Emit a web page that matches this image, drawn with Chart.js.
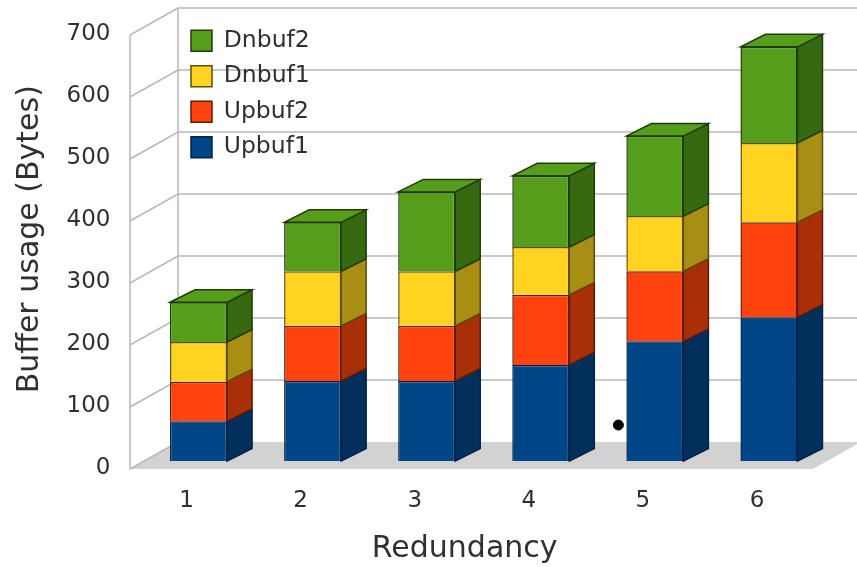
<!DOCTYPE html>
<html>
<head>
<meta charset="utf-8">
<style>
    html, body { margin: 0; padding: 0; background: #fff; }
    canvas { display: block; }
</style>
<script src="https://cdn.jsdelivr.net/npm/chart.js@4"></script>
</head>
<body>
<canvas id="bufferChart" width="857" height="567"></canvas>
<script>
const categories = ['1', '2', '3', '4', '5', '6'];
const upbuf1 = [64, 129, 129, 155, 193, 232];
const upbuf2 = [64, 89, 89, 113, 113, 153];
const dnbuf1 = [64, 88, 88, 77, 89, 128];
const dnbuf2 = [64, 79, 128, 115, 129, 155];

// ponto preto solto que aparece na figura original
const dotX = [3.68];
const dotY = [58];

const fontFamily = '"DejaVu Sans", sans-serif';
const textColor = '#303030';
const wallLine = '#b8b8b8';
const depthX = 25;
const depthY = 12.5;

function serie(label, data, color, side, edge) {
    return {
        label: label,
        data: data,
        backgroundColor: color,
        borderColor: edge,
        borderWidth: 1.5,
        sideColor: side
    };
}

// parede do fundo, chão e linhas em perspectiva
const wallsPlugin = {
    id: 'walls',
    beforeDraw(chart) {
        const { ctx, scales } = chart;
        const y = scales.y;
        const frontX = 130, backX = 178, frontDy = 8, backDy = -19;
        const zero = y.getPixelForValue(0);
        const right = chart.width + 10;

        ctx.save();
        ctx.fillStyle = '#d2d2d2';
        ctx.beginPath();
        ctx.moveTo(frontX, zero + frontDy);
        ctx.lineTo(813, zero + frontDy);
        ctx.lineTo(861, zero + backDy);
        ctx.lineTo(backX, zero + backDy);
        ctx.closePath();
        ctx.fill();

        ctx.strokeStyle = wallLine;
        ctx.lineWidth = 1.5;
        y.ticks.forEach(t => {
            const py = y.getPixelForValue(t.value);
            ctx.beginPath();
            ctx.moveTo(frontX, py + frontDy);
            ctx.lineTo(backX, py + backDy);
            if (t.value !== 0) ctx.lineTo(right, py + backDy);
            ctx.stroke();
        });
        ctx.beginPath();
        ctx.moveTo(frontX, y.getPixelForValue(700) + frontDy);
        ctx.lineTo(frontX, zero + frontDy);
        ctx.moveTo(backX, y.getPixelForValue(700) + backDy);
        ctx.lineTo(backX, zero + backDy);
        ctx.stroke();
        ctx.restore();
    }
};

// lados e tampo das barras, a partir dos elementos já calculados
const depthPlugin = {
    id: 'depth',
    afterDatasetsDraw(chart) {
        const { ctx } = chart;
        const barSets = chart.data.datasets.filter(d => d.sideColor);
        ctx.save();
        ctx.lineWidth = 1.5;
        barSets.forEach((ds, i) => {
            const meta = chart.getDatasetMeta(i);
            meta.data.forEach(bar => {
                const r = bar.x + bar.width / 2;
                const l = bar.x - bar.width / 2;
                ctx.fillStyle = ds.sideColor;
                ctx.strokeStyle = ds.borderColor;
                ctx.beginPath();
                ctx.moveTo(r, bar.base);
                ctx.lineTo(r + depthX, bar.base - depthY);
                ctx.lineTo(r + depthX, bar.y - depthY);
                ctx.lineTo(r, bar.y);
                ctx.closePath();
                ctx.fill();
                ctx.stroke();
                if (i === barSets.length - 1) {
                    ctx.fillStyle = ds.backgroundColor;
                    ctx.beginPath();
                    ctx.moveTo(l, bar.y);
                    ctx.lineTo(l + depthX, bar.y - depthY);
                    ctx.lineTo(r + depthX, bar.y - depthY);
                    ctx.lineTo(r, bar.y);
                    ctx.closePath();
                    ctx.fill();
                    ctx.stroke();
                }
            });
        });
        ctx.restore();
    }
};

// acerta o topo da área do gráfico e coloca a legenda sobre a parede do fundo
const placePlugin = {
    id: 'place',
    afterLayout(chart) {
        const y = chart.scales.y;
        const bottom = y.bottom;
        y.top = 27;
        y.height = bottom - y.top;
        y.configure();
        chart.chartArea.top = y.top;
        chart.chartArea.height = y.height;

        chart.legend.left = 179;
        chart.legend.top = 17;
    }
};

new Chart(document.getElementById('bufferChart').getContext('2d'), {
    type: 'bar',
    data: {
        labels: categories,
        datasets: [
            serie('Upbuf1', upbuf1, '#004586', '#022f5b', '#00234a'),
            serie('Upbuf2', upbuf2, '#ff420e', '#a82f08', '#5f1d04'),
            serie('Dnbuf1', dnbuf1, '#ffd320', '#a88e12', '#5e4c08'),
            serie('Dnbuf2', dnbuf2, '#579d1c', '#376a10', '#1f3d08'),
            {
                // parsing false: x fracionário direto na escala de categorias
                type: 'scatter',
                parsing: false,
                data: dotX.map((x, i) => ({ x: x, y: dotY[i] })),
                backgroundColor: '#000000',
                borderColor: '#000000',
                pointRadius: 5
            }
        ]
    },
    options: {
        responsive: false,
        animation: false,
        layout: { padding: { left: 0, right: 31, top: 27, bottom: 0 } },
        plugins: {
            tooltip: { enabled: false },
            legend: {
                position: 'chartArea',
                align: 'start',
                reverse: true,
                labels: {
                    boxWidth: 21,
                    boxHeight: 21,
                    padding: 12,
                    color: textColor,
                    font: { family: fontFamily, size: 23.5 },
                    filter: item => !!item.text
                }
            }
        },
        datasets: { bar: { categoryPercentage: 1, barPercentage: 0.5 } },
        scales: {
            x: {
                stacked: true,
                grid: { display: false, drawTicks: false },
                border: { display: false },
                afterFit: s => { s.height = 106; },
                ticks: {
                    color: textColor,
                    font: { family: fontFamily, size: 23 },
                    padding: 26,
                    labelOffset: -12,
                    maxRotation: 0,
                    autoSkip: false
                },
                title: {
                    display: true,
                    text: 'Redundancy' + '\u00a0'.repeat(4),
                    color: textColor,
                    font: { family: fontFamily, size: 30 },
                    padding: { top: 0, bottom: 0 }
                }
            },
            y: {
                stacked: true,
                min: 0,
                max: 700,
                grid: { display: false, drawTicks: false },
                border: { display: false },
                afterFit: s => { s.width = 141.5; },
                ticks: {
                    stepSize: 100,
                    color: textColor,
                    font: { family: fontFamily, size: 23 },
                    padding: 31,
                    labelOffset: 7
                },
                title: {
                    display: true,
                    text: '\u00a0'.repeat(1) + 'Buffer usage (Bytes)',
                    color: textColor,
                    font: { family: fontFamily, size: 30 },
                    padding: { top: 12, bottom: 0 }
                }
            }
        }
    },
    plugins: [wallsPlugin, depthPlugin, placePlugin]
});
</script>
</body>
</html>
